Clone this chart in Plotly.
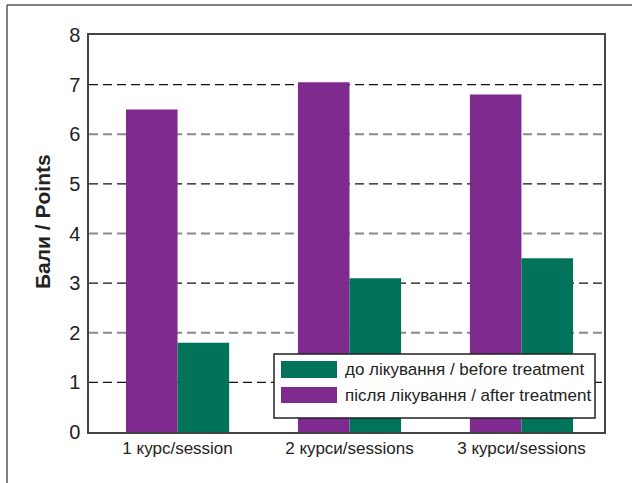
import plotly.graph_objects as go

# Categories and values
categories = ["1 курс/session", "2 курси/sessions", "3 курси/sessions"]
after_treatment = [6.5, 7.05, 6.8]
before_treatment = [1.8, 3.1, 3.5]
series_names = ["до лікування / before treatment", "після лікування / after treatment"]
y_ticks = [0, 1, 2, 3, 4, 5, 6, 7, 8]

PURPLE = "#7f2a8e"
GREEN = "#00735a"
FONT = "Liberation Sans Narrow, Arial Narrow, Liberation Sans, sans-serif"

W, H = 632, 483
ML, MR, MT, MB = 89, 28, 35, 51
PW, PH = W - ML - MR, H - MT - MB


def px_x(p):
    return (p - ML) / PW


def px_y(p):
    return (H - MB - p) / PH


fig = go.Figure()
fig.add_trace(go.Bar(x=categories, y=after_treatment, name=series_names[1],
                     marker=dict(color=PURPLE, line=dict(width=0)), showlegend=False))
fig.add_trace(go.Bar(x=categories, y=before_treatment, name=series_names[0],
                     marker=dict(color=GREEN, line=dict(width=0)), showlegend=False))

shapes = []
# dashed gridlines: black at odd values, grey at even values
for v in y_ticks[1:-1]:
    shapes.append(dict(type="line", xref="paper", yref="y", x0=0, x1=1, y0=v, y1=v,
                       layer="below",
                       line=dict(color="#111111" if v % 2 else "#8a8a8a",
                                 width=1.3 if v % 2 else 1.8, dash="9px,5px")))

# outer frame (top and left edges)
shapes.append(dict(type="line", xref="paper", yref="paper",
                   x0=px_x(7), x1=px_x(640), y0=px_y(5), y1=px_y(5),
                   line=dict(color="#555555", width=1.5)))
shapes.append(dict(type="line", xref="paper", yref="paper",
                   x0=px_x(7), x1=px_x(7), y0=px_y(5), y1=px_y(490),
                   line=dict(color="#555555", width=1.5)))

# legend box and swatches
shapes.append(dict(type="rect", xref="paper", yref="paper",
                   x0=px_x(274), x1=px_x(595), y0=px_y(354), y1=px_y(418),
                   fillcolor="white", line=dict(color="#222222", width=1.5)))
legend_rows = [(GREEN, series_names[0], 361, 378), (PURPLE, series_names[1], 387, 403)]
annotations = []
for color, label, top, bot in legend_rows:
    shapes.append(dict(type="rect", xref="paper", yref="paper",
                       x0=px_x(281), x1=px_x(337), y0=px_y(top), y1=px_y(bot),
                       fillcolor=color, line=dict(width=0)))
    annotations.append(dict(x=px_x(343), y=px_y((top + bot) / 2), xref="paper", yref="paper",
                            text=label, showarrow=False, xanchor="left", yanchor="middle",
                            font=dict(family=FONT, size=17, color="#222222")))

# y-axis title
annotations.append(dict(x=px_x(42), y=px_y(222), xref="paper", yref="paper",
                        text="<b>Бали / Points</b>", textangle=-90, showarrow=False,
                        xanchor="center", yanchor="middle",
                        font=dict(family="Liberation Sans, Arial, sans-serif", size=21,
                                  color="#222222")))

fig.update_layout(
    width=W, height=H,
    margin=dict(l=ML, r=MR, t=MT, b=MB),
    paper_bgcolor="white", plot_bgcolor="white",
    barmode="group", bargap=0.4, bargroupgap=0,
    shapes=shapes, annotations=annotations,
    showlegend=False,
    xaxis=dict(range=[-0.515, 2.48], showgrid=False, ticks="",
               showline=True, linecolor="#444444", linewidth=1.5, mirror=True,
               tickfont=dict(family=FONT, size=17, color="#222222")),
    yaxis=dict(range=[0, 8], tickvals=y_ticks, showgrid=False, zeroline=False, ticks="",
               showline=True, linecolor="#444444", linewidth=1.5, mirror=True,
               ticklabelstandoff=3,
               tickfont=dict(family=FONT, size=20, color="#222222")),
)

fig.write_html("out.html")
